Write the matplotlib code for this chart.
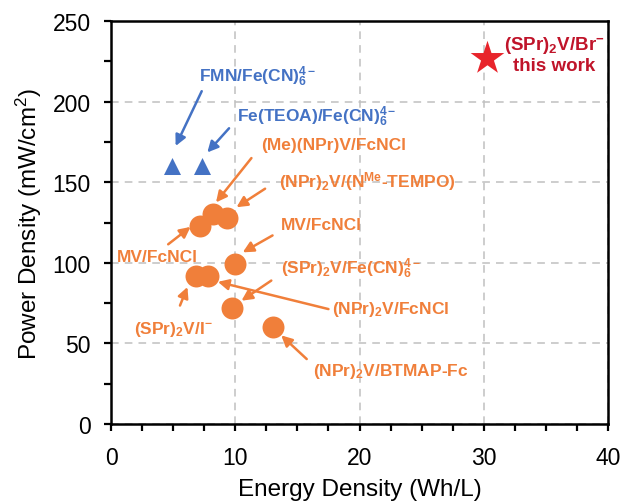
import matplotlib
matplotlib.use('Agg')
import matplotlib.pyplot as mpl
from matplotlib.ticker import MultipleLocator

# data
blue_x = [4.9, 7.3]
blue_y = [160, 160]
orange_x = [7.2, 8.2, 9.3, 10.0, 6.8, 7.8, 9.7, 13.0]
orange_y = [123, 130, 128, 99, 92, 92, 72, 60]
star_x = [30.3]
star_y = [227]

blue = '#4472C4'
orange = '#F07F3A'
red = '#E8242B'
dark_red = '#C0142A'

# (text, text x, text y, arrow start, arrow tip, colour)
notes = [
    (r'FMN/Fe(CN)$_\mathbf{6}^\mathbf{4-}$', 7.1, 216, (7.3, 206.5), (5.2, 172.5), blue),
    (r'Fe(TEOA)/Fe(CN)$_\mathbf{6}^\mathbf{4-}$', 10.1, 191.5, (9.5, 183.5), (7.75, 168.5), blue),
    (r'(Me)(NPr)V/FcNCl', 12.05, 173.5, (11.3, 165), (8.45, 137.5), orange),
    (r'(NPr)$_\mathbf{2}$V/(N$^\mathbf{Me}$-TEMPO)', 13.5, 151, (12.4, 146), (10.1, 134.5), orange),
    (r'MV/FcNCl', 13.7, 123.5, (13.0, 117), (10.6, 106.5), orange),
    (r'MV/FcNCl', 0.45, 104, (4.6, 111.5), (6.4, 122.3), orange),
    (r'(SPr)$_\mathbf{2}$V/Fe(CN)$_\mathbf{6}^\mathbf{4-}$', 13.65, 97, (12.9, 89), (10.5, 76.5), orange),
    (r'(NPr)$_\mathbf{2}$V/FcNCl', 17.8, 71.5, (17.5, 71.3), (8.6, 88.2), orange),
    (r'(SPr)$_\mathbf{2}$V/I$^\mathbf{-}$', 1.85, 59, (5.55, 73.5), (6.15, 85), orange),
    (r'(NPr)$_\mathbf{2}$V/BTMAP-Fc', 16.25, 33, (15.75, 40.3), (13.7, 55), orange),
]

mpl.rcParams['font.family'] = ['Liberation Sans', 'DejaVu Sans']
mpl.rcParams['mathtext.fontset'] = 'custom'
mpl.rcParams['mathtext.rm'] = 'Liberation Sans'
mpl.rcParams['mathtext.bf'] = 'Liberation Sans:bold'
mpl.rcParams['mathtext.it'] = 'Liberation Sans:italic'

fig = mpl.figure(figsize=(6.22, 5.02), dpi=100)
ax = fig.add_axes([0.1785, 0.1534, 0.799, 0.8026])

ax.set_xlim(0, 40)
ax.set_ylim(0, 250)
ax.xaxis.set_major_locator(MultipleLocator(10))
ax.xaxis.set_minor_locator(MultipleLocator(2.5))
ax.yaxis.set_major_locator(MultipleLocator(50))
ax.yaxis.set_minor_locator(MultipleLocator(25))
ax.tick_params(which='both', direction='out', length=5, width=1.6, labelsize=16.5)
ax.tick_params(axis='x', pad=10.5)
ax.tick_params(axis='y', pad=9.5)
for sp in ax.spines.values():
    sp.set_linewidth(1.8)
ax.grid(True, which='major', color='#C0C0C0', linestyle=(0, (5, 4)), linewidth=1.1)
ax.set_axisbelow(True)

ax.set_xlabel('Energy Density (Wh/L)', fontsize=17.5, labelpad=7)
ax.set_ylabel('Power Density (mW/cm$^2$)', fontsize=17.5, labelpad=6)

ax.scatter(blue_x, blue_y, marker='^', s=150, color=blue, zorder=3, linewidths=0)
ax.scatter(orange_x, orange_y, marker='o', s=250, color=orange, zorder=3, linewidths=0)
ax.scatter(star_x, star_y, marker='*', s=650, color=red, zorder=3, linewidths=0)

for text, tx, ty, start, tip, col in notes:
    ax.text(tx, ty, text, color=col, fontsize=12.5, fontweight='bold', ha='left', va='center')
    ax.annotate('', xy=tip, xytext=start,
                arrowprops=dict(arrowstyle='-|>', color=col, lw=1.8, mutation_scale=16,
                                shrinkA=0, shrinkB=0))

ax.text(35.7, 229.5, '(SPr)$_\\mathbf{2}$V/Br$^\\mathbf{-}$\nthis work', color=dark_red,
        fontsize=13.5, fontweight='bold', ha='center', va='center', linespacing=1.15)

fig.savefig('out.png', dpi=100)
